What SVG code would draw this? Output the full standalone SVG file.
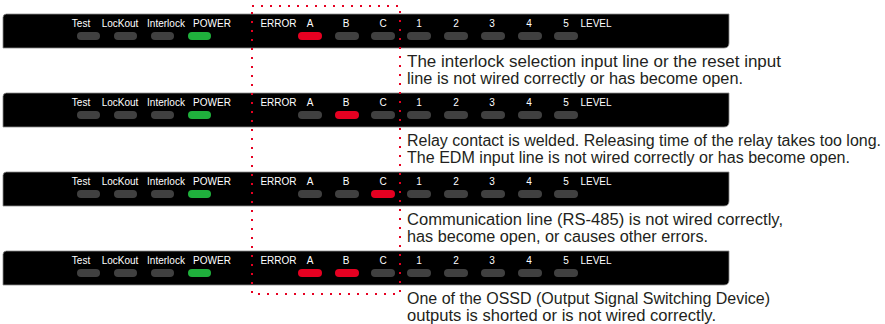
<svg xmlns="http://www.w3.org/2000/svg" width="885" height="324" viewBox="0 0 885 324">
<style>
.bar{fill:#000;stroke:#8a8a8a;stroke-width:0.8}
.lbl{font-family:"Liberation Sans",Arial,sans-serif;font-size:10px;fill:#fff;text-anchor:middle}
.led{fill:#404040}
.red{fill:#e60021}
.grn{fill:#1fb03c}
.desc{font-family:"Liberation Sans",Arial,sans-serif;font-size:16px;fill:#231f20}
.dot{fill:none;stroke:#e60021;stroke-width:2;stroke-dasharray:2 7}
</style>
<defs>
<path id="barShape" d="M3,3.5 Q3,0 6.5,0 H729 V29 Q729,34 724,34 H3 Z"/>
</defs>

<g id="panel1" transform="translate(0,14)">
<use href="#barShape" class="bar"/>
<text class="lbl" x="81" y="13">Test</text><text class="lbl" x="120" y="13">LocKout</text><text class="lbl" x="166" y="13">Interlock</text><text class="lbl" x="212" y="13">POWER</text>
<text class="lbl" x="278.5" y="13">ERROR</text><text class="lbl" x="310" y="13">A</text><text class="lbl" x="346" y="13">B</text><text class="lbl" x="383" y="13">C</text>
<text class="lbl" x="419" y="13">1</text><text class="lbl" x="456" y="13">2</text><text class="lbl" x="492" y="13">3</text><text class="lbl" x="529" y="13">4</text><text class="lbl" x="566" y="13">5</text><text class="lbl" x="596" y="13">LEVEL</text>
<rect class="led" x="77" y="18" width="23" height="8" rx="4"/><rect class="led" x="114" y="18" width="23" height="8" rx="4"/><rect class="led" x="151" y="18" width="23" height="8" rx="4"/><rect class="grn" x="188" y="18" width="23" height="8" rx="4"/>
<rect class="red" x="298" y="18" width="24" height="8" rx="4"/><rect class="led" x="335" y="18" width="24" height="8" rx="4"/><rect class="led" x="371" y="18" width="24" height="8" rx="4"/>
<rect class="led" x="407" y="18" width="24" height="8" rx="4"/><rect class="led" x="444" y="18" width="24" height="8" rx="4"/><rect class="led" x="481" y="18" width="24" height="8" rx="4"/><rect class="led" x="518" y="18" width="24" height="8" rx="4"/><rect class="led" x="554" y="18" width="24" height="8" rx="4"/>
</g>

<g id="panel2" transform="translate(0,93)">
<use href="#barShape" class="bar"/>
<text class="lbl" x="81" y="13">Test</text><text class="lbl" x="120" y="13">LocKout</text><text class="lbl" x="166" y="13">Interlock</text><text class="lbl" x="212" y="13">POWER</text>
<text class="lbl" x="278.5" y="13">ERROR</text><text class="lbl" x="310" y="13">A</text><text class="lbl" x="346" y="13">B</text><text class="lbl" x="383" y="13">C</text>
<text class="lbl" x="419" y="13">1</text><text class="lbl" x="456" y="13">2</text><text class="lbl" x="492" y="13">3</text><text class="lbl" x="529" y="13">4</text><text class="lbl" x="566" y="13">5</text><text class="lbl" x="596" y="13">LEVEL</text>
<rect class="led" x="77" y="18" width="23" height="8" rx="4"/><rect class="led" x="114" y="18" width="23" height="8" rx="4"/><rect class="led" x="151" y="18" width="23" height="8" rx="4"/><rect class="grn" x="188" y="18" width="23" height="8" rx="4"/>
<rect class="led" x="298" y="18" width="24" height="8" rx="4"/><rect class="red" x="335" y="18" width="24" height="8" rx="4"/><rect class="led" x="371" y="18" width="24" height="8" rx="4"/>
<rect class="led" x="407" y="18" width="24" height="8" rx="4"/><rect class="led" x="444" y="18" width="24" height="8" rx="4"/><rect class="led" x="481" y="18" width="24" height="8" rx="4"/><rect class="led" x="518" y="18" width="24" height="8" rx="4"/><rect class="led" x="554" y="18" width="24" height="8" rx="4"/>
</g>

<g id="panel3" transform="translate(0,172)">
<use href="#barShape" class="bar"/>
<text class="lbl" x="81" y="13">Test</text><text class="lbl" x="120" y="13">LocKout</text><text class="lbl" x="166" y="13">Interlock</text><text class="lbl" x="212" y="13">POWER</text>
<text class="lbl" x="278.5" y="13">ERROR</text><text class="lbl" x="310" y="13">A</text><text class="lbl" x="346" y="13">B</text><text class="lbl" x="383" y="13">C</text>
<text class="lbl" x="419" y="13">1</text><text class="lbl" x="456" y="13">2</text><text class="lbl" x="492" y="13">3</text><text class="lbl" x="529" y="13">4</text><text class="lbl" x="566" y="13">5</text><text class="lbl" x="596" y="13">LEVEL</text>
<rect class="led" x="77" y="18" width="23" height="8" rx="4"/><rect class="led" x="114" y="18" width="23" height="8" rx="4"/><rect class="led" x="151" y="18" width="23" height="8" rx="4"/><rect class="grn" x="188" y="18" width="23" height="8" rx="4"/>
<rect class="led" x="298" y="18" width="24" height="8" rx="4"/><rect class="led" x="335" y="18" width="24" height="8" rx="4"/><rect class="red" x="371" y="18" width="24" height="8" rx="4"/>
<rect class="led" x="407" y="18" width="24" height="8" rx="4"/><rect class="led" x="444" y="18" width="24" height="8" rx="4"/><rect class="led" x="481" y="18" width="24" height="8" rx="4"/><rect class="led" x="518" y="18" width="24" height="8" rx="4"/><rect class="led" x="554" y="18" width="24" height="8" rx="4"/>
</g>

<g id="panel4" transform="translate(0,251)">
<use href="#barShape" class="bar"/>
<text class="lbl" x="81" y="13">Test</text><text class="lbl" x="120" y="13">LocKout</text><text class="lbl" x="166" y="13">Interlock</text><text class="lbl" x="212" y="13">POWER</text>
<text class="lbl" x="278.5" y="13">ERROR</text><text class="lbl" x="310" y="13">A</text><text class="lbl" x="346" y="13">B</text><text class="lbl" x="383" y="13">C</text>
<text class="lbl" x="419" y="13">1</text><text class="lbl" x="456" y="13">2</text><text class="lbl" x="492" y="13">3</text><text class="lbl" x="529" y="13">4</text><text class="lbl" x="566" y="13">5</text><text class="lbl" x="596" y="13">LEVEL</text>
<rect class="led" x="77" y="18" width="23" height="8" rx="4"/><rect class="led" x="114" y="18" width="23" height="8" rx="4"/><rect class="led" x="151" y="18" width="23" height="8" rx="4"/><rect class="grn" x="188" y="18" width="23" height="8" rx="4"/>
<rect class="red" x="298" y="18" width="24" height="8" rx="4"/><rect class="red" x="335" y="18" width="24" height="8" rx="4"/><rect class="led" x="371" y="18" width="24" height="8" rx="4"/>
<rect class="led" x="407" y="18" width="24" height="8" rx="4"/><rect class="led" x="444" y="18" width="24" height="8" rx="4"/><rect class="led" x="481" y="18" width="24" height="8" rx="4"/><rect class="led" x="518" y="18" width="24" height="8" rx="4"/><rect class="led" x="554" y="18" width="24" height="8" rx="4"/>
</g>

<g id="connectors">
<rect class="dot" x="252" y="6" width="148" height="288"/>
</g>

<g id="desc1">
<text class="desc" x="407" y="67" textLength="374" lengthAdjust="spacingAndGlyphs">The interlock selection input line or the reset input</text>
<text class="desc" x="407" y="84" textLength="336" lengthAdjust="spacingAndGlyphs">line is not wired correctly or has become open.</text>
</g>
<g id="desc2">
<text class="desc" x="407" y="146" textLength="474" lengthAdjust="spacingAndGlyphs">Relay contact is welded. Releasing time of the relay takes too long.</text>
<text class="desc" x="407" y="163" textLength="443" lengthAdjust="spacingAndGlyphs">The EDM input line is not wired correctly or has become open.</text>
</g>
<g id="desc3">
<text class="desc" x="407" y="225" textLength="376" lengthAdjust="spacingAndGlyphs">Communication line (RS-485) is not wired correctly,</text>
<text class="desc" x="407" y="242" textLength="301" lengthAdjust="spacingAndGlyphs">has become open, or causes other errors.</text>
</g>
<g id="desc4">
<text class="desc" x="407" y="304" textLength="363" lengthAdjust="spacingAndGlyphs">One of the OSSD (Output Signal Switching Device)</text>
<text class="desc" x="407" y="321" textLength="309" lengthAdjust="spacingAndGlyphs">outputs is shorted or is not wired correctly.</text>
</g>
</svg>
